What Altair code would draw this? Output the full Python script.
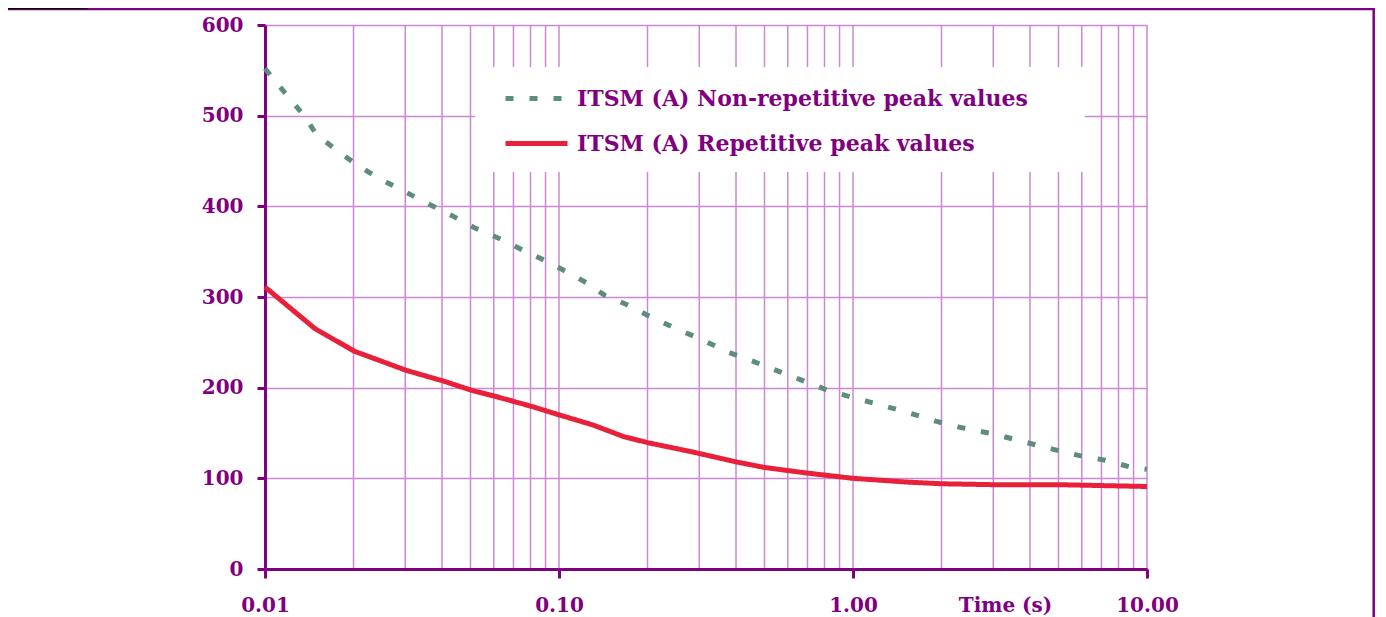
import altair as alt
import pandas as pd

SER_NON = "ITSM (A) Non-repetitive peak values"
SER_REP = "ITSM (A) Repetitive peak values"

non_rep_t = [0.01, 0.0117, 0.0135, 0.015, 0.0175, 0.0205, 0.024, 0.0292, 0.0352, 0.0431,
             0.0518, 0.0632, 0.0761, 0.0913, 0.103, 0.1235, 0.143, 0.169, 0.205, 0.251,
             0.306, 0.377, 0.458, 0.559, 0.684, 0.838, 1.03, 1.27, 1.56, 1.91,
             2.33, 3.0, 3.84, 4.8, 5.9, 7.2, 8.9, 10.0]
non_rep_v = [552, 525, 501, 479, 462, 446, 432, 418, 404, 390,
             376, 364, 351, 339, 330, 316, 302, 292, 278, 265,
             253, 239, 229, 218, 207, 196, 188, 180, 172, 163,
             156, 149, 140, 132, 125, 120, 112, 110]

rep_t = [0.01, 0.0148, 0.0202, 0.0303, 0.0407, 0.0505, 0.0614, 0.0814, 0.1, 0.13,
         0.166, 0.2025, 0.2855, 0.402, 0.5, 0.69, 1.0, 1.23, 1.5, 2.0,
         3.0, 5.0, 7.0, 10.0]
rep_v = [311, 265, 240, 219, 207, 197, 190, 179, 170, 159,
         146, 139, 129, 118, 112, 106, 100, 98, 96, 94,
         93, 93, 92, 91]

x_ticks = [0.01, 0.1, 1, 10]
x_grid = [m * d for d in [0.01, 0.1, 1] for m in range(1, 10)][1:] + [10]
y_ticks = [0, 100, 200, 300, 400, 500, 600]

PURPLE = "#80007f"
GRID = "#cc88d0"
TEAL = "#5e8c7e"
RED = "#e8203a"
FONT = "DejaVu Serif"

df = pd.concat([
    pd.DataFrame({"t": non_rep_t, "v": non_rep_v, "series": SER_NON}),
    pd.DataFrame({"t": rep_t, "v": rep_v, "series": SER_REP}),
])

xscale = alt.Scale(type="log", domain=[0.01, 10], nice=False)
yscale = alt.Scale(domain=[0, 600], nice=False)

xaxis = alt.Axis(
    values=x_ticks, format=".2f", grid=False, tickSize=9, tickWidth=3,
    tickColor=PURPLE, domainColor=PURPLE, domainWidth=3, labelPadding=17,
    labelFont=FONT, labelFontSize=20, labelFontWeight="bold", labelColor=PURPLE,
    title="Time (s)", titleX=740, titleY=26, titleBaseline="top", titleAlign="center",
    titleFont=FONT, titleFontSize=20, titleFontWeight="bold", titleColor=PURPLE,
    labelFlush=False, labelOverlap=False, zindex=1,
)
yaxis = alt.Axis(
    values=y_ticks, grid=True, gridColor=GRID, gridWidth=1.5, tickSize=8,
    tickWidth=3, tickColor=PURPLE, domainColor=PURPLE, domainWidth=3,
    labelPadding=14, labelFont=FONT, labelFontSize=20, labelFontWeight="bold",
    labelColor=PURPLE, title=None,
)

legend = alt.Legend(
    title=None, orient="none", legendX=238, legendY=40, direction="vertical",
    padding=0, rowPadding=-14, symbolType="stroke",
    symbolSize=3844, symbolStrokeWidth=5, labelOffset=7, labelFont=FONT,
    labelFontSize=22, labelFontWeight="bold", labelColor=PURPLE, labelLimit=800,
)

grid = alt.Chart(pd.DataFrame({"g": x_grid})).mark_rule(
    color=GRID, strokeWidth=1.5
).encode(x=alt.X("g:Q", scale=xscale, axis=xaxis))

one = pd.DataFrame({"k": [0]})
legend_bg = alt.Chart(one).mark_rect(color="white").encode(
    x=alt.value(210), x2=alt.value(820), y=alt.value(42), y2=alt.value(147)
)

lines = alt.Chart(df).mark_line(strokeWidth=5, strokeCap="butt").encode(
    x=alt.X("t:Q", scale=xscale, axis=xaxis),
    y=alt.Y("v:Q", scale=yscale, axis=yaxis),
    color=alt.Color("series:N", scale=alt.Scale(domain=[SER_NON, SER_REP], range=[TEAL, RED]),
                    legend=legend),
    strokeDash=alt.StrokeDash("series:N", scale=alt.Scale(domain=[SER_NON, SER_REP],
                                                          range=[[8, 16], [1, 0]]),
                              legend=legend),
    order=alt.Order("t:Q"),
)

frame = alt.Chart(one).mark_rect(fillOpacity=0, stroke=PURPLE, strokeWidth=2.5).encode(
    x=alt.value(-262), x2=alt.value(1108.7), y=alt.value(-16), y2=alt.value(900)
)
box = alt.Chart(one).mark_rect(color="black").encode(
    x=alt.value(-257), x2=alt.value(-177), y=alt.value(-17), y2=alt.value(-15.7)
)

chart = alt.layer(grid, legend_bg, lines, frame, box).properties(
    width=882, height=544,
    autosize=alt.AutoSizeParams(type="none"),
    padding={"left": 257, "top": 17, "right": 231, "bottom": 48},
).configure_view(stroke=None)

chart.save("out.html", embed_options={"renderer": "svg", "actions": False})
